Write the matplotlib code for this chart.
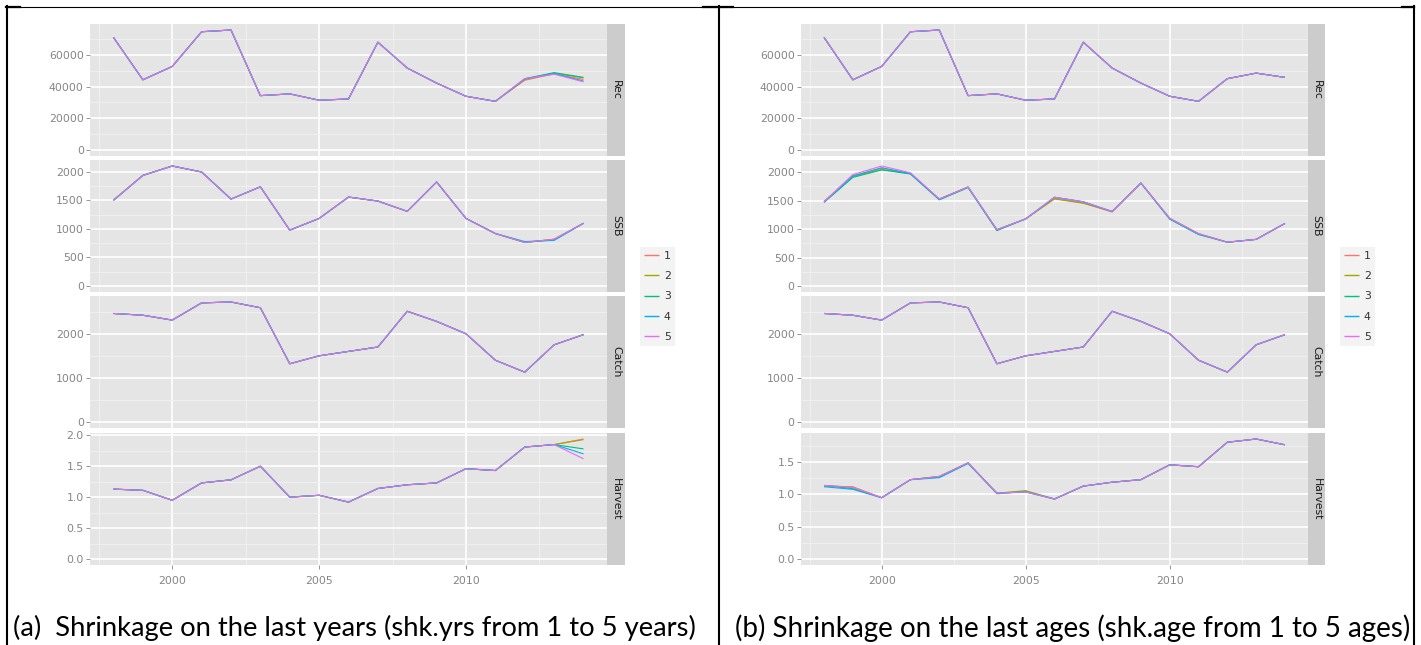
import matplotlib
matplotlib.use("Agg")
import matplotlib.pyplot as plt
from matplotlib.ticker import MultipleLocator, FormatStrFormatter
from matplotlib.lines import Line2D

"""
Data read off the two ggplot panels
"""

years = list(range(1998, 2015))
series = [1, 2, 3, 4, 5]
colors = ["#F8766D", "#A3A500", "#00BF7D", "#00B0F6", "#E76BF3"]
facets = ["Rec", "SSB", "Catch", "Harvest"]

# (a) shrinkage on the last years
rec_a = [71000, 44300, 52700, 74600, 75700, 34300, 35400, 31400, 32200,
         68000, 51700, 42200, 33900, 30700, 45000, 47800, 43000]
ssb_a = [1505, 1940, 2105, 2000, 1525, 1740, 980, 1185, 1560,
         1490, 1310, 1825, 1185, 920, 765, 820, 1100]
catch_a = [2460, 2420, 2310, 2700, 2720, 2590, 1320, 1500, 1600,
           1700, 2510, 2280, 2000, 1400, 1130, 1750, 1980]
harv_a = [1.13, 1.11, 0.95, 1.23, 1.28, 1.50, 1.00, 1.03, 0.92,
          1.14, 1.20, 1.23, 1.46, 1.43, 1.81, 1.85, 1.62]

# per-series values where a line leaves the common path
rec_a_dev = {
    1: {2012: 44000, 2013: 48000, 2014: 44500},
    2: {2012: 44500, 2013: 48500, 2014: 45500},
    3: {2013: 48800, 2014: 45800},
    4: {2012: 44800, 2013: 48300, 2014: 43500},
}
ssb_a_dev = {
    3: {2013: 810},
    4: {2012: 780, 2013: 800},
}
catch_a_dev = {}
harv_a_dev = {
    1: {2014: 1.94},
    2: {2014: 1.93},
    3: {2014: 1.78},
    4: {2014: 1.70},
}

# (b) shrinkage on the last ages
rec_b = [71000, 44300, 52700, 74600, 75700, 34300, 35400, 31400, 32200,
         68000, 51700, 42200, 33900, 30700, 45000, 48500, 45800]
ssb_b = [1480, 1960, 2110, 1990, 1530, 1740, 990, 1180, 1560,
         1480, 1310, 1810, 1190, 920, 770, 820, 1100]
catch_b = [2460, 2420, 2310, 2700, 2720, 2590, 1320, 1500, 1600,
           1700, 2510, 2280, 2000, 1400, 1130, 1750, 1980]
harv_b = [1.14, 1.11, 0.95, 1.23, 1.28, 1.49, 1.02, 1.04, 0.93,
          1.13, 1.19, 1.23, 1.46, 1.43, 1.81, 1.86, 1.77]

rec_b_dev = {}
ssb_b_dev = {
    1: {1998: 1490, 1999: 1940, 2000: 2070, 2001: 1980, 2004: 980,
        2006: 1540, 2007: 1460, 2008: 1300},
    2: {1999: 1925, 2000: 2050, 2001: 1975, 2006: 1530, 2007: 1455},
    3: {1998: 1470, 1999: 1910, 2000: 2040, 2001: 1970, 2002: 1515,
        2003: 1730, 2004: 975, 2010: 1175, 2011: 905},
    4: {1998: 1475, 1999: 1930, 2000: 2080, 2001: 1975, 2002: 1520,
        2010: 1180, 2011: 910},
}
catch_b_dev = {}
harv_b_dev = {
    1: {1998: 1.13, 1999: 1.12, 2004: 1.01, 2005: 1.05},
    2: {2004: 1.02, 2005: 1.06},
    3: {1999: 1.09, 2002: 1.27},
    4: {1998: 1.12, 1999: 1.08, 2002: 1.26, 2003: 1.48},
}

y_steps = [20000, 500, 1000, 0.5]
y_formats = ["%d", "%d", "%d", "%.1f"]

caption_a = "(a)  Shrinkage on the last years (shk.yrs from 1 to 5 years)"
caption_b = "(b) Shrinkage on the last ages (shk.age from 1 to 5 ages)"

"""
Layout (pixels)
"""

W, H = 1421, 645
fig = plt.figure(figsize=(W / 100, H / 100), dpi=100)
fig.patch.set_facecolor("white")

rows = [(24, 156), (160, 292), (296, 428), (433, 565)]
grey_txt = "#858585"


def px_axes(x0, y0, x1, y1):
    return fig.add_axes([x0 / W, 1 - y1 / H, (x1 - x0) / W, (y1 - y0) / H])


def series_values(base, dev, k):
    vals = list(base)
    for yr, v in dev.get(k, {}).items():
        vals[years.index(yr)] = v
    return vals


def draw_side(x0, x1, strip_x1, bases, devs, legend_x):
    handles = []
    for r, (y0, y1) in enumerate(rows):
        ax = px_axes(x0, y0, x1, y1)
        ax.set_facecolor("#E5E5E5")
        all_vals = []
        for k, col in zip(series, colors):
            vals = series_values(bases[r], devs[r], k)
            all_vals += vals
            (ln,) = ax.plot(years, vals, color=col, lw=0.8, solid_capstyle="butt")
            if r == 0:
                handles.append(ln)
        lo = min(0, min(all_vals))
        hi = max(all_vals)
        pad = 0.05 * (hi - lo)
        ax.set_ylim(lo - pad, hi + pad)
        xr = years[-1] - years[0]
        ax.set_xlim(years[0] - 0.05 * xr, years[-1] + 0.05 * xr)

        ax.yaxis.set_major_locator(MultipleLocator(y_steps[r]))
        ax.yaxis.set_minor_locator(MultipleLocator(y_steps[r] / 2))
        ax.yaxis.set_major_formatter(FormatStrFormatter(y_formats[r]))
        ax.xaxis.set_major_locator(MultipleLocator(5))
        ax.xaxis.set_minor_locator(MultipleLocator(2.5))
        ax.grid(which="major", color="white", lw=1.2)
        ax.grid(which="minor", color="#F2F2F2", lw=0.6)
        ax.set_axisbelow(True)
        for s in ax.spines.values():
            s.set_visible(False)
        ax.tick_params(axis="y", which="major", length=3, width=0.6,
                       color=grey_txt, labelcolor=grey_txt, labelsize=7.8, pad=1.5)
        ax.tick_params(which="minor", length=0)
        if r == len(rows) - 1:
            ax.tick_params(axis="x", which="major", length=3, width=0.6,
                           color=grey_txt, labelcolor=grey_txt, labelsize=7.8, pad=5)
        else:
            ax.tick_params(axis="x", which="major", length=0, labelbottom=False)

        sax = px_axes(x1, y0, strip_x1, y1)
        sax.set_facecolor("#CCCCCC")
        sax.set_xticks([])
        sax.set_yticks([])
        for s in sax.spines.values():
            s.set_visible(False)
        sax.text(0.5, 0.5, facets[r], rotation=270, ha="center", va="center",
                 fontsize=7.8, color="#1A1A1A", transform=sax.transAxes)

    leg = fig.legend(handles, [str(k) for k in series], loc="upper left",
                     bbox_to_anchor=(legend_x / W, 1 - 247 / H),
                     frameon=True, facecolor="#F0F0F0", edgecolor="none",
                     fancybox=False, fontsize=7.8, handlelength=1.4,
                     handletextpad=0.45, labelspacing=0.95, borderpad=0.35,
                     borderaxespad=0)
    for t in leg.get_texts():
        t.set_color("#333333")
    for h in leg.legend_handles:
        h.set_linewidth(1.0)


draw_side(90, 607, 625,
          [rec_a, ssb_a, catch_a, harv_a],
          [rec_a_dev, ssb_a_dev, catch_a_dev, harv_a_dev], 640)
draw_side(801, 1308, 1325,
          [rec_b, ssb_b, catch_b, harv_b],
          [rec_b_dev, ssb_b_dev, catch_b_dev, harv_b_dev], 1340)

# captions, sized to their cell width
renderer = fig.canvas.get_renderer()
for txt, xa, xb in [(caption_a, 13, 700), (caption_b, 735, 1412)]:
    t = fig.text(xa / W, 1 - 628 / H, txt, fontsize=16, family=["Lato", "DejaVu Sans"],
                 ha="left", va="center", color="black")
    w = t.get_window_extent(renderer=renderer).width
    t.set_fontsize(16 * (xb - xa) / w)

# table borders
def hline(x0, x1, y, lw):
    fig.add_artist(Line2D([x0 / W, x1 / W], [1 - y / H, 1 - y / H],
                          transform=fig.transFigure, color="black", lw=lw))


def vline(x, y0, y1, lw):
    fig.add_artist(Line2D([x / W, x / W], [1 - y0 / H, 1 - y1 / H],
                          transform=fig.transFigure, color="black", lw=lw))


hline(6, 1414, 6.5, 0.8)
for xa, xb in [(6, 20), (703, 733), (1402, 1414)]:
    hline(xa, xb, 6.5, 1.6)
for x in [6.5, 718.5, 1413.5]:
    vline(x, 6, 645, 1.5)

fig.savefig("out.png", dpi=100, facecolor="white")
